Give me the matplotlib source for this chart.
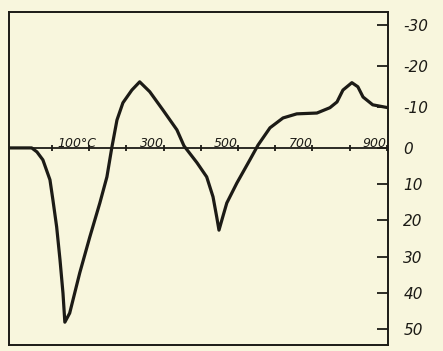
import matplotlib
matplotlib.use("Agg")
import matplotlib.pyplot as plt
import numpy as np

# DTA curve: temperature (deg C) and deflection (scale units,
# negative = exothermic, drawn upward)
temp = [-115, -54, -40, -24, -5, 3, 13, 22, 30, 35, 48, 75, 102, 129, 148,
        161, 175, 191, 215, 236, 263, 298, 336, 355, 390, 416, 433, 443, 449,
        459, 470, 497, 532, 554, 586, 621, 658, 712, 747, 766, 782, 806, 822,
        836, 862, 903]
signal = [0, 0, 1.1, 3.3, 8.8, 14.4, 21.8, 30.9, 40.1, 48.1, 45.6, 34.5, 24.6,
          15.2, 8.0, 0, -6.8, -11.0, -14.1, -16.1, -13.7, -9.3, -4.4, -0.5, 4.1,
          8.0, 13.5, 19.1, 22.7, 19.1, 15.2, 9.7, 3.3, -0.7, -4.9, -7.3, -8.3,
          -8.5, -9.8, -11.2, -14.1, -15.9, -14.9, -12.4, -10.5, -9.8]

x_ticks = [0, 100, 200, 300, 400, 500, 600, 700, 800, 900]
x_labels = {100: "100°C", 300: "300", 500: "500", 700: "700", 900: "900"}
y_ticks = [-30, -20, -10, 0, 10, 20, 30, 40, 50]
y_labels = ["-30", "-20", "-10", "0", "10", "20", "30", "40", "50"]

paper = "#f8f6dd"
ink = "#1c1b16"

# the hand-drawn scale is a little wider above zero than below it
def fwd(v):
    v = np.asarray(v, dtype=float)
    return np.where(v < 0, v * 4.1, v * 3.62)

def inv(p):
    p = np.asarray(p, dtype=float)
    return np.where(p < 0, p / 4.1, p / 3.62)

fig = plt.figure(figsize=(4.43, 3.51), dpi=100)
fig.patch.set_facecolor(paper)
ax = fig.add_axes([9 / 443, 1 - 345 / 351, 379 / 443, 332.5 / 351])
ax.set_facecolor(paper)
ax.set_yscale("function", functions=(fwd, inv))

ax.plot(temp, signal, color=ink, lw=2.3, solid_joinstyle="round",
        solid_capstyle="round")

# zero line with the temperature ticks on it
ax.axhline(0, color=ink, lw=1.3)
ax.plot(x_ticks, [0] * len(x_ticks), ls="none", marker="|", ms=5,
        mew=1.3, color=ink)
for t, lab in x_labels.items():
    dx = 20 if t == 100 else 0
    ax.text(t + dx, 0.6, lab, ha="right", va="bottom", fontsize=9,
            style="italic", color=ink)

ax.set_xlim(-115, 903)
ax.set_ylim(54.4, -33.0)
ax.set_xticks([])
ax.yaxis.tick_right()
ax.set_yticks(y_ticks)
ax.set_yticklabels(y_labels, fontsize=11, style="italic", color=ink)
ax.yaxis.set_minor_locator(matplotlib.ticker.NullLocator())
ax.tick_params(axis="y", direction="in", length=8, width=1.3, pad=11,
               colors=ink)
for s in ax.spines.values():
    s.set_color(ink)
    s.set_linewidth(1.4)

fig.savefig("out.png", dpi=100, facecolor=paper)
